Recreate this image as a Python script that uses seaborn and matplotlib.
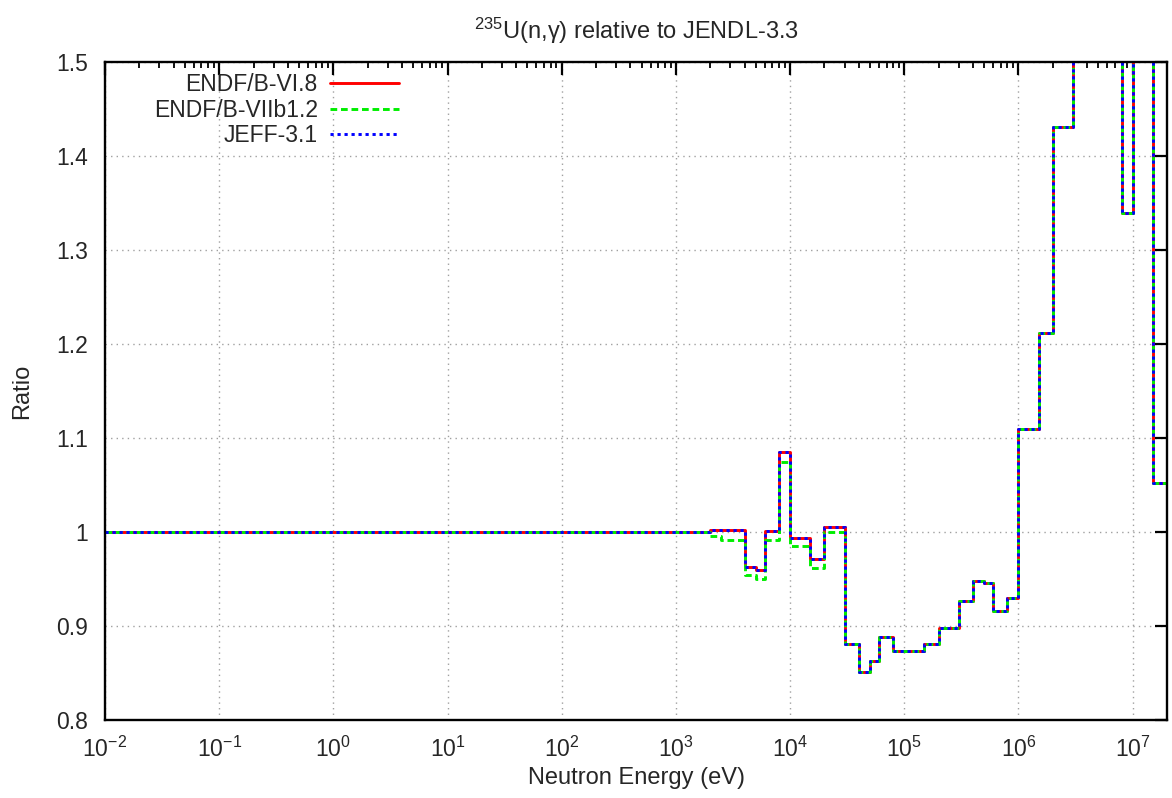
import numpy as np
import pandas as pd
import matplotlib
matplotlib.use("Agg")
import matplotlib.pyplot as plt
from matplotlib.ticker import FixedLocator, LogFormatterMathtext, NullFormatter
import seaborn as sns

# Group lower edges (eV); the last entry closes the final group
energy = [1e-2, 2e3, 2.5e3, 4e3, 5e3, 6e3, 8e3, 1e4, 1.5e4, 2e4, 3e4, 4e4, 5e4,
          6e4, 8e4, 1.5e5, 2e5, 3e5, 4e5, 5e5, 6e5, 8e5, 1e6, 1.5e6, 2e6, 3e6,
          8e6, 1e7, 1.5e7, 2e7]

# Capture cross-section ratios relative to JENDL-3.3
endf_b6 = [1.000, 1.002, 1.002, 0.963, 0.960, 1.001, 1.085, 0.994, 0.971, 1.005,
           0.8805, 0.851, 0.863, 0.8885, 0.873, 0.881, 0.8975, 0.927, 0.948,
           0.9455, 0.916, 0.930, 1.110, 1.212, 1.431, 1.620, 1.339, 1.700,
           1.052, 1.052]
endf_b7 = [1.000, 0.9955, 0.992, 0.954, 0.950, 0.9915, 1.075, 0.985, 0.962, 0.9995,
           0.8805, 0.851, 0.863, 0.8885, 0.873, 0.881, 0.8975, 0.927, 0.948,
           0.9455, 0.916, 0.930, 1.110, 1.212, 1.431, 1.620, 1.339, 1.700,
           1.052, 1.052]
jeff31 = [1.000, 1.002, 1.002, 0.963, 0.960, 1.001, 1.085, 0.994, 0.971, 1.005,
          0.8805, 0.851, 0.863, 0.8885, 0.873, 0.881, 0.8975, 0.927, 0.948,
          0.9455, 0.916, 0.930, 1.110, 1.212, 1.431, 1.620, 1.339, 1.700,
          1.052, 1.052]

libraries = ["ENDF/B-VI.8", "ENDF/B-VIIb1.2", "JEFF-3.1"]
x_ticks = [1e-2, 1e-1, 1e0, 1e1, 1e2, 1e3, 1e4, 1e5, 1e6, 1e7]
y_ticks = [0.8, 0.9, 1.0, 1.1, 1.2, 1.3, 1.4, 1.5]

df = pd.concat([
    pd.DataFrame({"energy": energy, "ratio": vals, "library": lib})
    for lib, vals in zip(libraries, [endf_b6, endf_b7, jeff31])
], ignore_index=True)

sns.set_style("white")
plt.rcParams["font.family"] = ["Liberation Sans", "DejaVu Sans"]
plt.rcParams["mathtext.fontset"] = "custom"
plt.rcParams["mathtext.rm"] = "Liberation Sans"
plt.rcParams["mathtext.it"] = "Liberation Sans:italic"
plt.rcParams["mathtext.default"] = "regular"

fig = plt.figure(figsize=(11.72, 7.98), dpi=100)
ax = fig.add_axes([105 / 1172, 1 - 720 / 798, (1167 - 105) / 1172, (720 - 62) / 798])

palette = {"ENDF/B-VI.8": "#ff0000", "ENDF/B-VIIb1.2": "#00ee00", "JEFF-3.1": "#0000ff"}
dashes = {"ENDF/B-VI.8": "", "ENDF/B-VIIb1.2": (2.3, 1.3), "JEFF-3.1": (1.1, 1.3)}

sns.lineplot(data=df, x="energy", y="ratio", hue="library", style="library",
             hue_order=libraries, style_order=libraries, palette=palette,
             dashes=dashes, estimator=None, sort=False, drawstyle="steps-post",
             linewidth=2.1, ax=ax)

ax.set_xscale("log")
ax.set_xlim(1e-2, 2e7)
ax.set_ylim(0.8, 1.5)

minor = [m * d for d in x_ticks for m in range(2, 10) if m * d < 2e7]
ax.xaxis.set_major_locator(FixedLocator(x_ticks))
ax.xaxis.set_minor_locator(FixedLocator(minor))
ax.xaxis.set_major_formatter(LogFormatterMathtext())
ax.xaxis.set_minor_formatter(NullFormatter())
ax.yaxis.set_major_locator(FixedLocator(y_ticks))
ax.set_yticklabels([f"{v:g}" for v in y_ticks])

ax.tick_params(axis="both", which="both", direction="in", top=True, right=True,
               color="black")
ax.tick_params(axis="both", which="major", length=9, width=1.6)
ax.tick_params(axis="x", which="minor", length=4, width=1.3)
ax.tick_params(axis="x", which="major", labelsize=16.5, pad=12)
ax.tick_params(axis="y", which="major", labelsize=16.5, pad=12)

for sp in ax.spines.values():
    sp.set_color("black")
    sp.set_linewidth(1.7)

ax.grid(True, which="major", linestyle=(0, (1, 3)), color="#a0a0a0", linewidth=1.0)

ax.set_xlabel("Neutron Energy (eV)", fontsize=17, labelpad=4)
ax.set_ylabel("Ratio", fontsize=17, labelpad=17)
fig.text(636 / 1172, 1 - 31 / 798, r"$^{235}$U(n,$\gamma$) relative to JENDL-3.3",
         ha="center", va="center", fontsize=17)

handles, labels = ax.get_legend_handles_labels()
ax.legend(handles, labels, loc="upper right", bbox_to_anchor=(399 / 1172, 1 - 73 / 798),
          bbox_transform=fig.transFigure, frameon=False, markerfirst=False,
          fontsize=16.5, handlelength=3.0, handletextpad=0.55, labelspacing=0.12,
          borderpad=0, borderaxespad=0)

fig.savefig("out.png", dpi=100)
